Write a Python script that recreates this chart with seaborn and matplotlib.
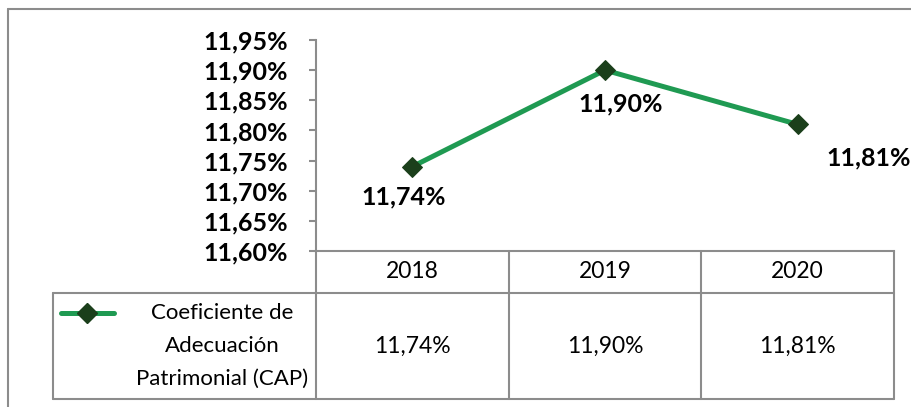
import matplotlib
matplotlib.use("Agg")
import matplotlib.pyplot as plt
import seaborn as sns
import pandas as pd

# data
years = ["2018", "2019", "2020"]
cap_values = [11.74, 11.90, 11.81]
series_name = "Coeficiente de\nAdecuación\nPatrimonial (CAP)"
y_ticks = [11.60, 11.65, 11.70, 11.75, 11.80, 11.85, 11.90, 11.95]

# label offsets (points) relative to each marker
label_offsets = [(-6, -22), (11, -24), (51, -24)]

LINE_GREEN = "#1f9a52"
MARKER_GREEN = "#1b3f1b"
GRID_GRAY = "#8c8c8c"

W, H = 911, 407
# pixel layout of the Excel-like chart
PLOT_L, PLOT_R, PLOT_T, PLOT_B = 316, 894, 40, 251
TABLE_L, ROW_SPLIT, TABLE_B = 53, 293, 399


def pct(v):
    return f"{v:.2f}%".replace(".", ",")


sns.set_theme(style="white")
plt.rcParams["font.family"] = ["Lato", "DejaVu Sans"]
plt.rcParams["text.color"] = "black"
plt.rcParams["ytick.labelcolor"] = "black"

fig = plt.figure(figsize=(W / 100, H / 100), dpi=100)

# background axes in pixel units for frame + data table
bg = fig.add_axes([0, 0, 1, 1], zorder=0)
bg.set_xlim(0, W)
bg.set_ylim(H, 0)
bg.axis("off")

bg.plot([8, 8], [9, H], color=GRID_GRAY, lw=1.5)
bg.plot([8, W], [9, 9], color=GRID_GRAY, lw=1.5)

# main line chart
ax = fig.add_axes([PLOT_L / W, 1 - PLOT_B / H, (PLOT_R - PLOT_L) / W, (PLOT_B - PLOT_T) / H], zorder=2)
ax.patch.set_alpha(0)

df = pd.DataFrame({"year": years, "cap": cap_values})
sns.lineplot(data=df, x="year", y="cap", ax=ax, sort=False, color=LINE_GREEN, lw=3.6,
             marker="D", markersize=10, markerfacecolor=MARKER_GREEN, markeredgecolor=MARKER_GREEN)

ax.set_xlim(-0.5, len(years) - 0.5)
ax.set_ylim(y_ticks[0], y_ticks[-1])
ax.set_yticks(y_ticks, labels=[pct(v) for v in y_ticks], fontweight="bold", fontsize=18,
              color="black")
ax.set_xticks(range(len(years)), labels=[""] * len(years))
ax.tick_params(axis="y", length=5, width=1.5, color=GRID_GRAY, pad=15, left=True)
ax.tick_params(axis="x", length=0)
ax.set_xlabel("")
ax.set_ylabel("")
for side in ["top", "right"]:
    ax.spines[side].set_visible(False)
for side in ["left", "bottom"]:
    ax.spines[side].set_color(GRID_GRAY)
    ax.spines[side].set_linewidth(1.5)

for i, (v, off) in enumerate(zip(cap_values, label_offsets)):
    ax.annotate(pct(v), (i, v), xytext=off, textcoords="offset points",
                ha="center", va="center", fontsize=18, fontweight="bold",
                color="black", annotation_clip=False)

# data table below the plot
col_w = (PLOT_R - PLOT_L) / len(years)
col_edges = [PLOT_L + i * col_w for i in range(len(years) + 1)]
for x in col_edges:
    bg.plot([x, x], [PLOT_B, TABLE_B], color=GRID_GRAY, lw=1.5)
bg.plot([TABLE_L, TABLE_L], [ROW_SPLIT, TABLE_B], color=GRID_GRAY, lw=1.5)
for y in [ROW_SPLIT, TABLE_B]:
    bg.plot([TABLE_L, PLOT_R], [y, y], color=GRID_GRAY, lw=1.5)

head_y = (PLOT_B + ROW_SPLIT) / 2
row_y = (ROW_SPLIT + TABLE_B) / 2
for i, (yr, v) in enumerate(zip(years, cap_values)):
    cx = col_edges[i] + col_w / 2
    bg.text(cx, head_y, yr, ha="center", va="center", fontsize=16.5, color="black")
    bg.text(cx, row_y, pct(v), ha="center", va="center", fontsize=16.5, color="black")

# legend key inside table
bg.plot([61, 114], [313, 313], color=LINE_GREEN, lw=3.6, solid_capstyle="round")
bg.plot([87], [313], marker="D", markersize=10, color=MARKER_GREEN)
bg.text(222, row_y, series_name, ha="center", va="center", fontsize=16,
        linespacing=1.8, multialignment="center", color="black")

fig.savefig("out.png", dpi=100)
